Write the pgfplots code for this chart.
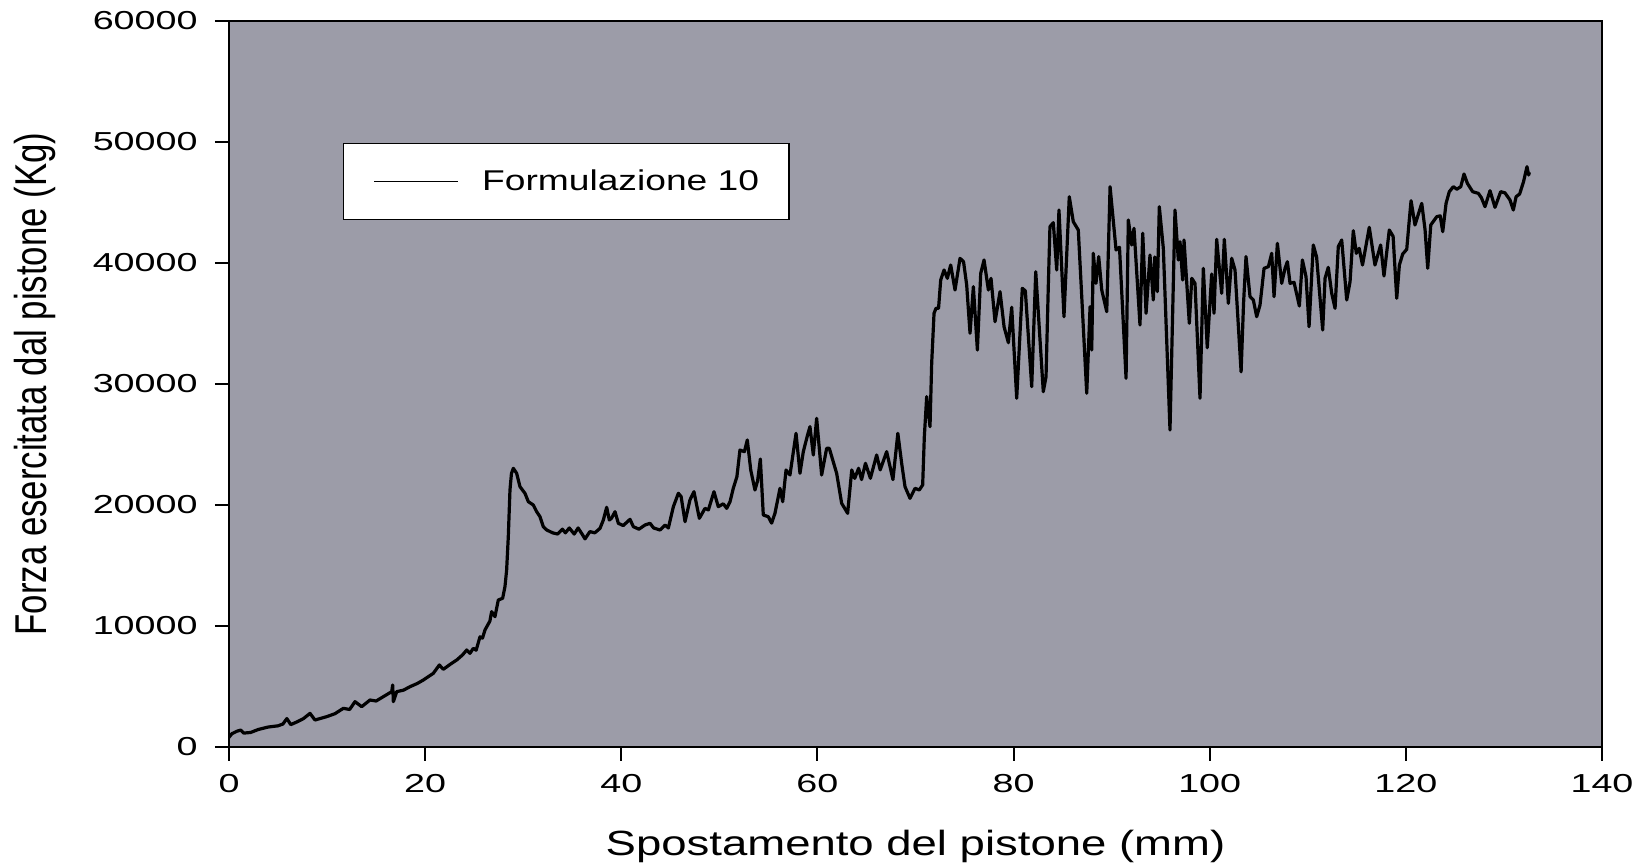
\documentclass[border=0pt]{standalone}
\usepackage{pgfplots}
\pgfplotsset{compat=1.18}
\usepackage{fontspec}
\setmainfont{Liberation Sans}
\newfontfamily\tickfont{Liberation Sans}[FakeStretch=1.45]
\newfontfamily\labfont{Liberation Sans}[FakeStretch=1.3]
\newfontfamily\ylabfont{Liberation Sans}[FakeStretch=0.78]
\newfontfamily\legfont{Liberation Sans}[FakeStretch=1.3]
\usetikzlibrary{calc}
\definecolor{bg}{RGB}{156,156,168}

\begin{document}
\begin{tikzpicture}
\begin{axis}[
    name=ax,
    scale only axis,
    width=686.5pt, height=363pt,
    xmin=0, xmax=140, ymin=0, ymax=60000,
    xtick={0,20,...,140},
    ytick={0,10000,...,60000},
    scaled y ticks=false,
    /pgf/number format/1000 sep={},
    /pgf/number format/assume math mode=true,
    axis background/.style={fill=bg},
    axis line style={line width=1.2pt, black},
    tick align=outside, tick pos=left,
    major tick length=7pt,
    every tick/.style={black, line width=1pt},
    ticklabel style={font=\tickfont\fontsize{13}{15}\selectfont, inner sep=0pt},
    yticklabel shift=8.5pt,
    xticklabel shift=6.5pt,
    xlabel={Spostamento del pistone (mm)},
    xlabel style={at={(axis description cs:0.5,0)}, anchor=north, inner sep=0pt,
                  yshift=-41.5pt, font=\labfont\fontsize{17.5}{20}\selectfont},
    ylabel={Forza esercitata dal pistone (Kg)},
    ylabel style={at={(axis description cs:-0.1326,0.5)}, anchor=base, inner sep=0pt,
                  rotate=0, font=\ylabfont\fontsize{22.3}{25}\selectfont},
    legend style={at={(axis description cs:0.083,0.832)}, anchor=north west,
                  draw=black, line width=0.6pt, fill=white,
                  inner xsep=15pt, inner ysep=13pt,
                  font=\legfont\fontsize{14.3}{16}\selectfont,
                  nodes={inner sep=0pt}, column sep=11.5pt},
    legend cell align=left,
    legend image code/.code={\draw[black, line width=0.8pt] (0pt,0pt) -- (42pt,0pt);},
]
\addplot[black, line width=1.6pt, line join=round] table {
x y
0 800
0.3 1100
0.8 1300
1.2 1400
1.5 1150
2.2 1200
3.0 1450
4.0 1650
5.0 1750
5.5 1900
5.9 2350
6.3 1850
7.0 2100
7.6 2350
8.26 2780
8.77 2230
9.96 2507
10.8 2750
11.66 3196
12.3 3100
12.85 3747
13.53 3333
14.38 3884
15.0 3800
15.74 4160
16.59 4573
16.69 5124
16.76 3747
17.1 4573
17.8 4700
18.46 4986
19.2 5250
19.82 5537
20.83 6088
21.45 6777
21.85 6419
22.5 6800
23.22 7190
23.8 7600
24.24 8016
24.57 7741
24.91 8154
25.2 8000
25.59 9100
25.85 9000
26.1 9669
26.6 10400
26.78 11185
27.12 10771
27.46 12149
27.9 12287
28.14 13249
28.31 14628
28.48 17383
28.65 21240
28.8 22600
28.99 23033
29.33 22620
29.67 21513
30.18 20966
30.52 20273
31.03 20000
31.37 19446
31.71 19032
32.05 18207
32.4 17934
33.0 17700
33.5 17600
34.0 18000
34.3 17700
34.7 18100
35.2 17600
35.6 18100
36.0 17600
36.3 17200
36.8 17800
37.3 17700
37.83 18070
38.17 18760
38.51 19810
38.78 18760
39.0 18900
39.36 19446
39.7 18487
40.2 18300
40.89 18817
41.23 18207
41.8 18000
42.42 18347
42.93 18487
43.3 18100
43.95 17934
44.46 18347
44.8 18100
45.31 19859
45.82 20966
46.1 20700
46.5 18620
47.0 20413
47.41 21100
47.96 18900
48.54 19725
48.88 19587
49.45 21100
49.89 19859
50.4 20100
50.75 19725
51.09 20273
51.42 21376
51.79 22341
52.1 24545
52.55 24408
52.85 25372
53.2 22893
53.63 21240
53.9 22000
54.18 23800
54.48 19174
54.99 19032
55.33 18500
55.67 19312
56.18 21376
56.46 20273
56.8 22893
57.2 22480
57.82 25923
58.22 22620
58.56 24408
59.0 25800
59.24 26473
59.58 24132
59.92 27163
60.43 22480
60.94 24683
61.21 24683
61.96 22620
62.47 20139
62.8 19700
63.08 19312
63.5 22893
63.8 22200
64.2 23033
64.5 22100
64.9 23446
65.4 22206
66.04 24132
66.4 22900
67.06 24408
67.7 22100
68.2 25923
68.59 23446
68.93 21513
69.44 20551
69.95 21376
70.39 21240
70.73 21653
70.9 25647
71.14 28952
71.48 26473
71.65 31711
71.89 35843
72.09 36256
72.35 36250
72.57 38595
72.91 39421
73.25 38733
73.59 39834
74.03 37769
74.54 40388
74.9 40100
75.22 38182
75.56 34190
75.9 38043
76.31 32810
76.65 39146
76.99 40248
77.43 37769
77.7 38733
78.11 35150
78.62 37631
79.03 34736
79.47 33415
79.81 36338
80.32 28818
80.89 37906
81.2 37700
81.85 29781
82.26 39283
83.03 29365
83.31 30606
83.54 38043
83.71 43000
84.05 43333
84.4 39421
84.63 44380
85.14 35562
85.68 45480
86.09 43413
86.6 42727
87.46 29231
87.8 36390
87.97 32810
88.13 40802
88.4 38320
88.68 40527
88.99 37769
89.5 35976
89.84 46306
90.45 41074
90.8 41300
91.47 30470
91.7 43554
92.05 41488
92.28 42866
92.89 34876
93.17 42455
93.51 35843
93.91 40661
94.25 36943
94.4 40500
94.66 37631
94.86 44654
95.27 41215
95.95 26200
96.46 44380
96.8 40248
96.97 41763
97.24 38595
97.38 41901
97.92 35017
98.17 38733
98.5 38320
99.01 28818
99.35 39559
99.75 33000
100.2 39090
100.44 35843
100.71 41957
101.22 37494
101.49 41957
101.9 36669
102.24 40388
102.58 39421
103.2 31000
103.45 36669
103.7 40527
104.11 37218
104.45 36943
104.79 35562
105.13 36529
105.54 39559
105.98 39696
106.32 40802
106.56 37218
106.9 41626
107.34 38320
107.68 39559
107.92 40110
108.19 38320
108.6 38400
109.14 36446
109.45 40248
109.82 38870
110.13 34736
110.56 41488
110.9 40500
111.52 34463
111.76 38733
112.09 39641
112.44 37494
112.78 36256
113.11 41350
113.46 41901
113.97 36943
114.31 38456
114.64 42672
114.95 40800
115.24 41215
115.58 39834
116.27 42948
116.85 39834
117.43 41488
117.77 38925
118.31 42727
118.7 42200
119.07 37080
119.34 39834
119.68 40744
120.09 41130
120.32 43280
120.53 45150
120.93 43140
121.62 44930
121.96 42727
122.23 39559
122.54 43140
123.15 43830
123.5 43900
123.76 42590
124.1 44930
124.43 45893
124.84 46306
125.2 46100
125.6 46306
125.93 47356
126.27 46587
126.81 45893
127.39 45755
127.7 45400
128.07 44654
128.58 45976
129.09 44600
129.67 45893
130.1 45800
130.62 45207
130.96 44380
131.24 45480
131.6 45700
132.0 46720
132.35 47960
132.52 47273
132.6 47500
};
\addlegendentry{Formulazione 10}
\end{axis}
\pgfresetboundingbox
\path[use as bounding box] ($(ax.south west)+(-114.5pt,-60pt)$) rectangle ($(ax.north east)+(21.5pt,10.5pt)$);
\end{tikzpicture}
\end{document}
